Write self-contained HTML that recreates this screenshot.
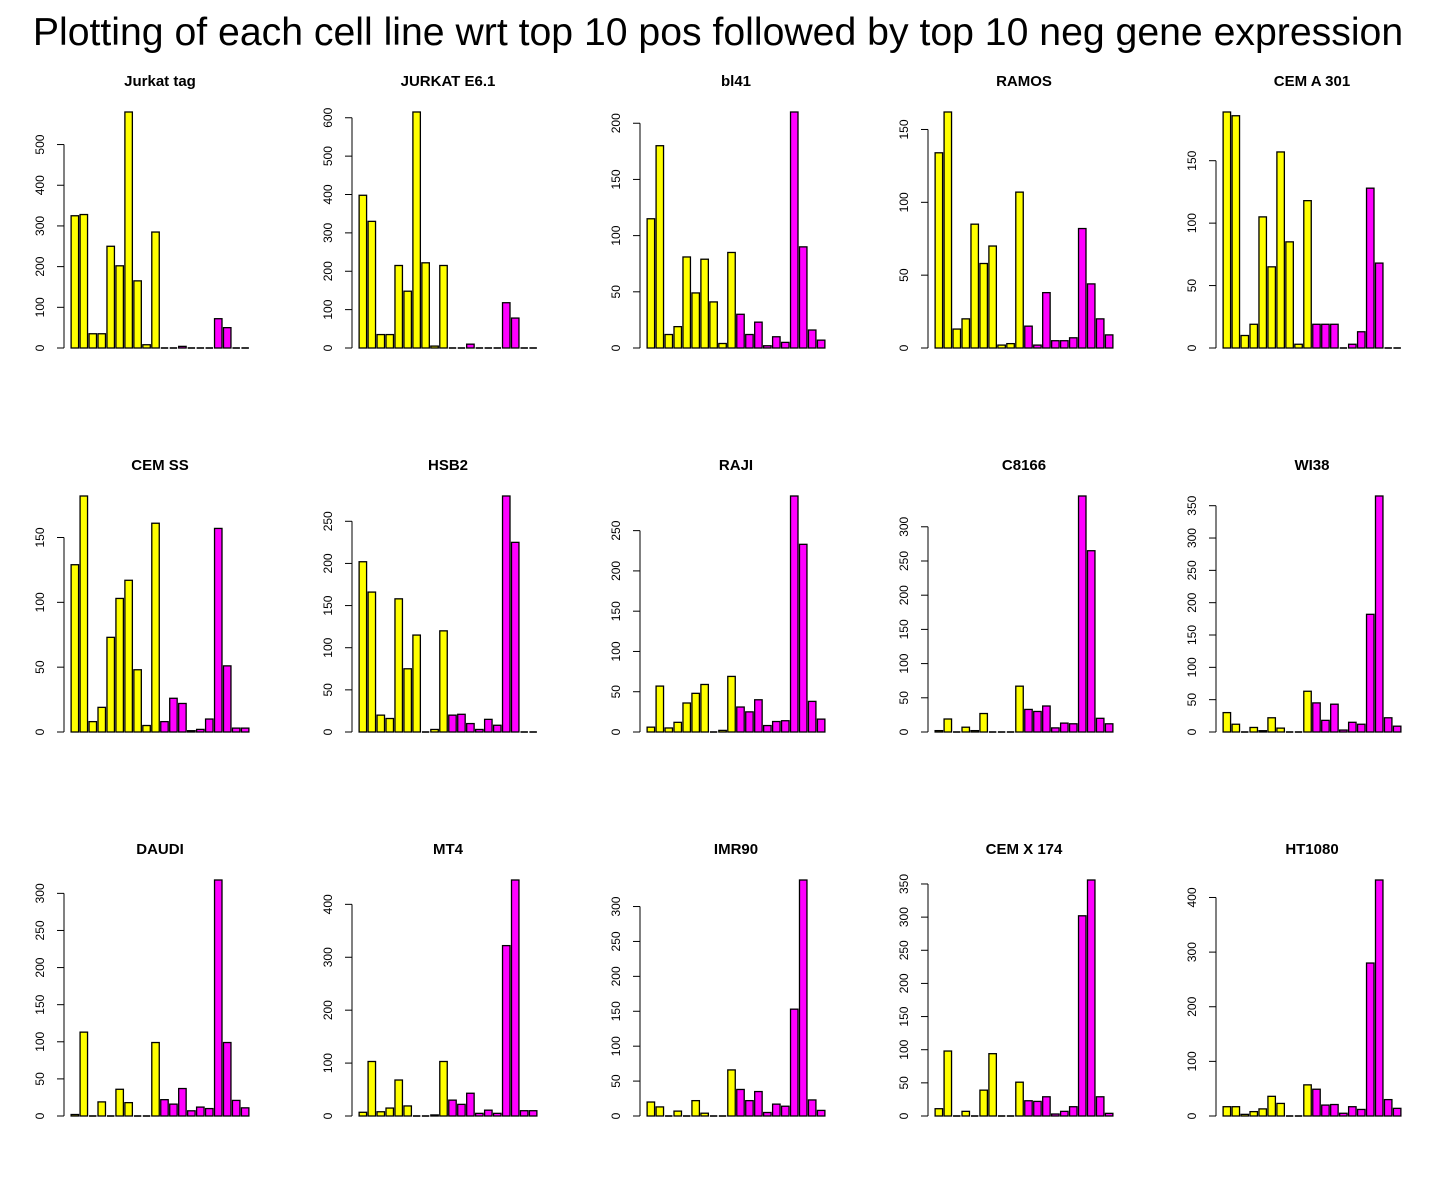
<!DOCTYPE html>
<html><head><meta charset="utf-8">
<style>
html,body{margin:0;padding:0;background:#fff;}
svg{display:block;font-family:"Liberation Sans",Arial,sans-serif;}
</style></head>
<body>
<svg id="chart" width="1440" height="1200" viewBox="0 0 1440 1200">
<text x="718" y="45" font-size="39.2" text-anchor="middle">Plotting of each cell line wrt top 10 pos followed by top 10 neg gene expression</text>
</svg>
<script>
const cellLines = ["Jurkat tag","JURKAT E6.1","bl41","RAMOS","CEM A 301","CEM SS","HSB2","RAJI","C8166","WI38","DAUDI","MT4","IMR90","CEM X 174","HT1080"];
const posValues = [
 [325,328,35,35,250,202,580,165,8,285],
 [398,330,35,35,215,148,615,222,5,215],
 [115,180,12,19,81,49,79,41,4,85],
 [134,162,13,20,85,58,70,2,3,107],
 [189,186,10,19,105,65,157,85,3,118],
 [129,182,8,19,73,103,117,48,5,161],
 [202,166,20,16,158,75,115,0,3,120],
 [6,57,5,12,36,48,59,0,2,69],
 [2,19,0,7,2,27,0,0,1,67],
 [30,12,0,7,2,22,6,0,0,63],
 [2,113,0,19,0,36,18,1,1,99],
 [7,103,8,15,68,19,0,0,2,103],
 [20,13,0,7,0,22,4,0,1,66],
 [11,98,0,7,0,39,94,0,0,51],
 [17,17,3,8,13,36,23,0,0,57]
];
const negValues = [
 [0,0,4,0,2,2,72,50,0,0],
 [2,0,10,0,2,2,118,78,0,0],
 [30,12,23,2,10,5,210,90,16,7],
 [15,2,38,5,5,7,82,44,20,9],
 [19,19,19,0,3,13,128,68,0,0],
 [8,26,22,1,2,10,157,51,3,3],
 [20,21,10,3,15,8,280,225,0,0],
 [31,25,40,8,13,14,293,233,38,16],
 [33,30,38,6,13,12,345,265,20,12],
 [45,18,43,3,15,12,182,365,22,9],
 [22,16,37,7,12,10,318,99,21,11],
 [30,22,43,5,11,5,322,446,10,10],
 [38,22,35,5,17,14,153,338,23,8],
 [23,22,29,3,7,14,302,356,29,4],
 [49,20,21,5,17,12,280,432,30,14]
];
const posColor = "#ffff00", negColor = "#ff00ff";

const svg = document.getElementById('chart');
const NS = "http://www.w3.org/2000/svg";
function mk(tag, attrs, parent){const e=document.createElementNS(NS,tag);for(const k in attrs)e.setAttribute(k,attrs[k]);parent.appendChild(e);return e;}
function prettyStep(max){
  const raw = max/5, p = Math.pow(10, Math.floor(Math.log10(raw))), r = raw/p;
  let m = r<1.5?1:r<2.5?2:r<7.5?5:10;
  return m*p;
}
cellLines.forEach((name,i)=>{
  const col=i%5,row=Math.floor(i/5);
  const axisX=64+col*288, plotW=192;
  const base=348+row*384, top=112+row*384, plotH=base-top;
  const vals=posValues[i].concat(negValues[i]);
  const maxV=Math.max(...vals);
  const y=v=>base-v/maxV*plotH;
  const xmin=-0.752,xmax=24.952;
  const x=u=>axisX+(u-xmin)/(xmax-xmin)*plotW;
  const g=mk('g',{},svg);
  
  
  const t=mk('text',{x:axisX+96,y:86+row*384,'font-size':15,'font-weight':'bold','text-anchor':'middle'},g);
  t.textContent=name;
  
  
  vals.forEach((v,j)=>{
    const l=x(0.2+j*1.2),r=x(1.2+j*1.2);
    const h=base-y(v);
    let b;
    if(h<1){
      b=mk('line',{x1:l,x2:r,y1:base,y2:base,stroke:'#000','stroke-width':1.6},g);
    } else {
      b=mk('rect',{x:l,y:y(v),width:r-l,height:h,fill:j<10?posColor:negColor,stroke:'#000','stroke-width':1.3},g);
    }
    
    
  });
  const step=prettyStep(maxV);
  const ax=mk('g',{},g);
  
  
  let lastT=0;
  for(let v=0;v<=maxV+1e-9;v+=step){lastT=v;
    mk('line',{x1:axisX-7,x2:axisX,y1:y(v),y2:y(v),stroke:'#000','stroke-width':1},ax);
    const tl=mk('text',{x:0,y:0,'font-size':12,'text-anchor':'middle',transform:`translate(${axisX-20},${y(v)}) rotate(-90)`},ax);
    tl.textContent=v;
    
    
  }
  mk('line',{x1:axisX,x2:axisX,y1:base,y2:y(lastT),stroke:'#000','stroke-width':1},ax);
});
</script>
</body></html>
